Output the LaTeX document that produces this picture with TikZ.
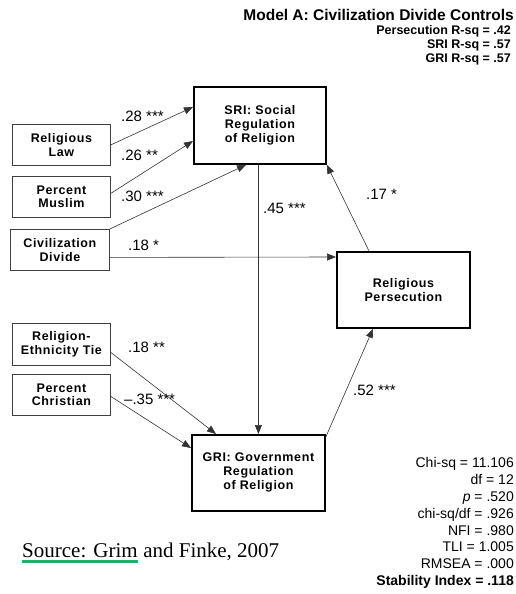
\documentclass[tikz,border=0pt]{standalone}
\usepackage{fontspec}
\setmainfont{Liberation Sans}
\newfontfamily\srcfont{Liberation Serif}
\newfontfamily\boxfont[LetterSpace=5]{Liberation Sans}
\usetikzlibrary{arrows.meta}
\definecolor{linkgreen}{RGB}{40,170,105}

\begin{document}
\begin{tikzpicture}[x=1pt,y=-1pt,
  link/.style={draw=black!80, line width=0.6pt, -{Triangle[length=9pt,width=7pt]}},
  inbox/.style={draw=black!75, line width=0.8pt, minimum width=98pt, minimum height=41pt,
    anchor=north west, inner sep=0pt, align=center,
    font=\boxfont\bfseries\fontsize{12.5}{13.5}\selectfont},
  keybox/.style={draw=black, line width=1.8pt, minimum width=132pt, minimum height=77pt,
    anchor=north west, inner sep=0pt, align=center,
    font=\boxfont\bfseries\fontsize{12.5}{14}\selectfont},
  coef/.style={anchor=west, inner sep=0pt, font=\fontsize{15}{17}\selectfont},
]
\useasboundingbox (0,0) rectangle (516,594);

% header
\node[anchor=east, inner sep=0pt, font=\bfseries\fontsize{15.5}{17}\selectfont] (title) at (514,15)
  {Model A: Civilization Divide Controls};
\node[anchor=east, inner sep=0pt, align=right, font=\bfseries\fontsize{12.5}{14}\selectfont] (rsq) at (511,45)
  {Persecution R-sq = .42\\SRI R-sq = .57\\GRI R-sq = .57};

% exogenous variables
\node[inbox] (rlaw) at (12,124) {Religious\\Law};
\node[inbox] (pmus) at (12,176) {Percent\\Muslim};
\node[inbox, minimum width=99pt] (civ) at (10,229) {Civilization\\Divide};
\node[inbox, minimum height=42pt] (ret) at (12,323) {Religion-\\Ethnicity Tie};
\node[inbox] (pchr) at (12,374) {Percent\\Christian};

% endogenous variables
\node[keybox] (sri) at (193,86) {SRI: Social\\Regulation\\of Religion};
\node[keybox, minimum width=133pt, minimum height=76pt] (pers) at (336,251) {Religious\\Persecution};
\node[keybox, minimum width=133pt, minimum height=76pt] (gri) at (191,434) {GRI: Government\\Regulation\\of Religion};

% paths
\draw[link] (rlaw.east) -- ([yshift=-21pt]sri.north west);
\draw[link] ([yshift=3.5pt]pmus.east) -- ([yshift=-55pt]sri.north west);
\draw[link] (civ.north east) -- ([xshift=53pt]sri.south west);
\draw[link] ([yshift=-7.5pt]civ.east) -- ([yshift=-6pt]pers.north west);
\draw[link] (gri.north |- sri.south) -- (gri.north);
\draw[link] ([xshift=33pt]pers.north west) -- (sri.south east);
\draw[link] ([yshift=-8pt]ret.east) -- ([xshift=25pt]gri.north west);
\draw[link] ([yshift=-1.5pt]pchr.east) -- ([yshift=-14pt]gri.north west);
\draw[link] ([yshift=-3pt]gri.north east) -- ([xshift=37pt]pers.south west);

% path coefficients
\node[coef] (c1) at (121,116) {.28 ***};
\node[coef] (c2) at (121,155) {.26 **};
\node[coef] (c3) at (121,196) {.30 ***};
\node[coef] (c4) at (263,208) {.45 ***};
\node[coef] (c5) at (366,194) {.17 *};
\node[coef] (c6) at (128,245) {.18 *};
\node[coef] (c7) at (128,347) {.18 **};
\node[coef] (c8) at (124,399) {--.35 ***};
\node[coef] (c9) at (353,390) {.52 ***};

% fit statistics
\node[anchor=east, inner sep=0pt, align=right, font=\fontsize{14}{16.8}\selectfont] (fit) at (514,523)
  {Chi-sq = 11.106\\df = 12\\\textit{p} = .520\\chi-sq/df = .926\\NFI = .980\\TLI = 1.005\\RMSEA = .000\\\textbf{Stability Index = .118}};

% source line
\node[anchor=base west, inner sep=0pt, font=\srcfont\fontsize{21}{24}\selectfont] (src1) at (22,557) {Source: Grim};
\node[anchor=base west, inner sep=0pt, font=\srcfont\fontsize{21}{24}\selectfont] (src2) at ([xshift=5.2pt]src1.base east) {and Finke, 2007};
\draw[linkgreen, line width=3pt] ([yshift=-4.5pt]src1.base west) -- ([yshift=-4.5pt]src1.base east);
\end{tikzpicture}
\end{document}
